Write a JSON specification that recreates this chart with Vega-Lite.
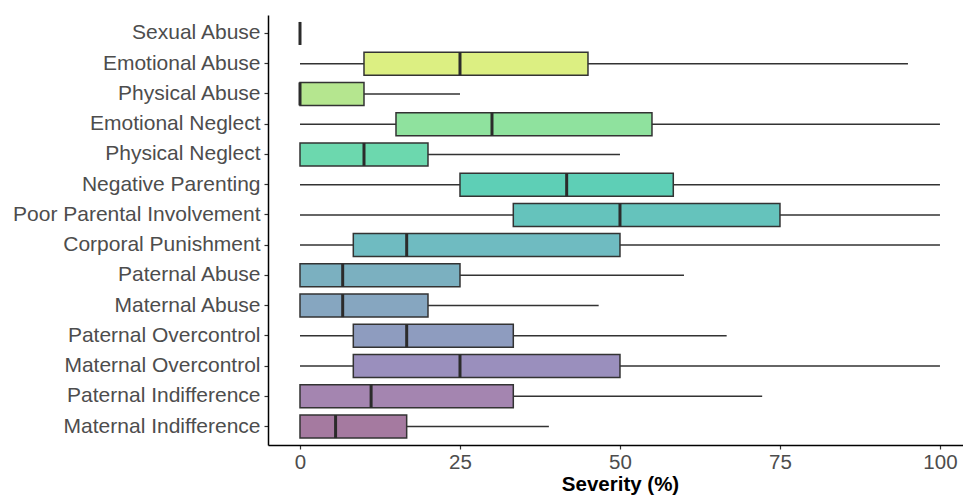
{
  "$schema": "https://vega.github.io/schema/vega-lite/v6.json",
  "width": 695,
  "height": 430,
  "autosize": {"type": "none"},
  "padding": {"left": 268, "top": 15, "right": 0, "bottom": 53},
  "background": "white",
  "config": {
    "view": {"stroke": null},
    "font": "Liberation Sans",
    "axis": {"grid": false}
  },
  "data": {
    "values": [
      {"cat": "Sexual Abuse", "min": 0, "q1": 0, "median": 0, "q3": 0, "max": 0},
      {"cat": "Emotional Abuse", "min": 0, "q1": 10, "median": 25, "q3": 45, "max": 95},
      {"cat": "Physical Abuse", "min": 0, "q1": 0, "median": 0, "q3": 10, "max": 25},
      {"cat": "Emotional Neglect", "min": 0, "q1": 15, "median": 30, "q3": 55, "max": 100},
      {"cat": "Physical Neglect", "min": 0, "q1": 0, "median": 10, "q3": 20, "max": 50},
      {"cat": "Negative Parenting", "min": 0, "q1": 25, "median": 41.67, "q3": 58.33, "max": 100},
      {"cat": "Poor Parental Involvement", "min": 0, "q1": 33.33, "median": 50, "q3": 75, "max": 100},
      {"cat": "Corporal Punishment", "min": 0, "q1": 8.33, "median": 16.67, "q3": 50, "max": 100},
      {"cat": "Paternal Abuse", "min": 0, "q1": 0, "median": 6.67, "q3": 25, "max": 60},
      {"cat": "Maternal Abuse", "min": 0, "q1": 0, "median": 6.67, "q3": 20, "max": 46.67},
      {"cat": "Paternal Overcontrol", "min": 0, "q1": 8.33, "median": 16.67, "q3": 33.33, "max": 66.67},
      {"cat": "Maternal Overcontrol", "min": 0, "q1": 8.33, "median": 25, "q3": 50, "max": 100},
      {"cat": "Paternal Indifference", "min": 0, "q1": 0, "median": 11.11, "q3": 33.33, "max": 72.22},
      {"cat": "Maternal Indifference", "min": 0, "q1": 0, "median": 5.56, "q3": 16.67, "max": 38.89}
    ]
  },
  "encoding": {
    "y": {
      "field": "cat",
      "type": "nominal",
      "sort": null,
      "scale": {"paddingInner": 0, "paddingOuter": 0.11},
      "axis": {
        "title": null,
        "labelFontSize": 21,
        "labelColor": "#4d4d4d",
        "labelPadding": 4,
        "labelLimit": 0,
        "tickSize": 4,
        "tickColor": "#333333",
        "tickWidth": 1.2,
        "domainColor": "#000000",
        "domainWidth": 1.5
      }
    }
  },
  "layer": [
    {
      "mark": {"type": "rule", "color": "#333333", "strokeWidth": 1.5},
      "encoding": {
        "x": {
          "field": "min",
          "type": "quantitative",
          "scale": {"domain": [-5, 103.6], "nice": false, "zero": false},
          "axis": {
            "values": [0, 25, 50, 75, 100],
            "title": "Severity (%)",
            "titleFontSize": 20.5,
            "titleFontWeight": "bold",
            "titleColor": "#000000",
            "titlePadding": 2,
            "titleX": 352,
            "labelFontSize": 20.5,
            "labelColor": "#4d4d4d",
            "labelPadding": 3,
            "tickSize": 4,
            "tickColor": "#333333",
            "tickWidth": 1.2,
            "domainColor": "#000000",
            "domainWidth": 1.5
          }
        },
        "x2": {"field": "max"}
      }
    },
    {
      "mark": {"type": "bar", "height": 23, "stroke": "#333333", "strokeWidth": 1.5},
      "encoding": {
        "x": {"field": "q1", "type": "quantitative"},
        "x2": {"field": "q3"},
        "color": {
          "field": "cat",
          "type": "nominal",
          "legend": null,
          "scale": {
            "domain": ["Sexual Abuse", "Emotional Abuse", "Physical Abuse", "Emotional Neglect", "Physical Neglect", "Negative Parenting", "Poor Parental Involvement", "Corporal Punishment", "Paternal Abuse", "Maternal Abuse", "Paternal Overcontrol", "Maternal Overcontrol", "Paternal Indifference", "Maternal Indifference"],
            "range": ["#f2ef7a", "#dcef82", "#b5e68f", "#8fe29e", "#6cd8ae", "#5ecfb6", "#65c3bc", "#6fbbc1", "#7bb0c0", "#86a6c0", "#8e9cbf", "#9a8fbd", "#a485b0", "#a57aa0"]
          }
        }
      }
    },
    {
      "mark": {"type": "tick", "color": "#2b2b2b", "thickness": 3, "size": 23, "opacity": 1},
      "encoding": {
        "x": {"field": "median", "type": "quantitative"}
      }
    }
  ]
}
